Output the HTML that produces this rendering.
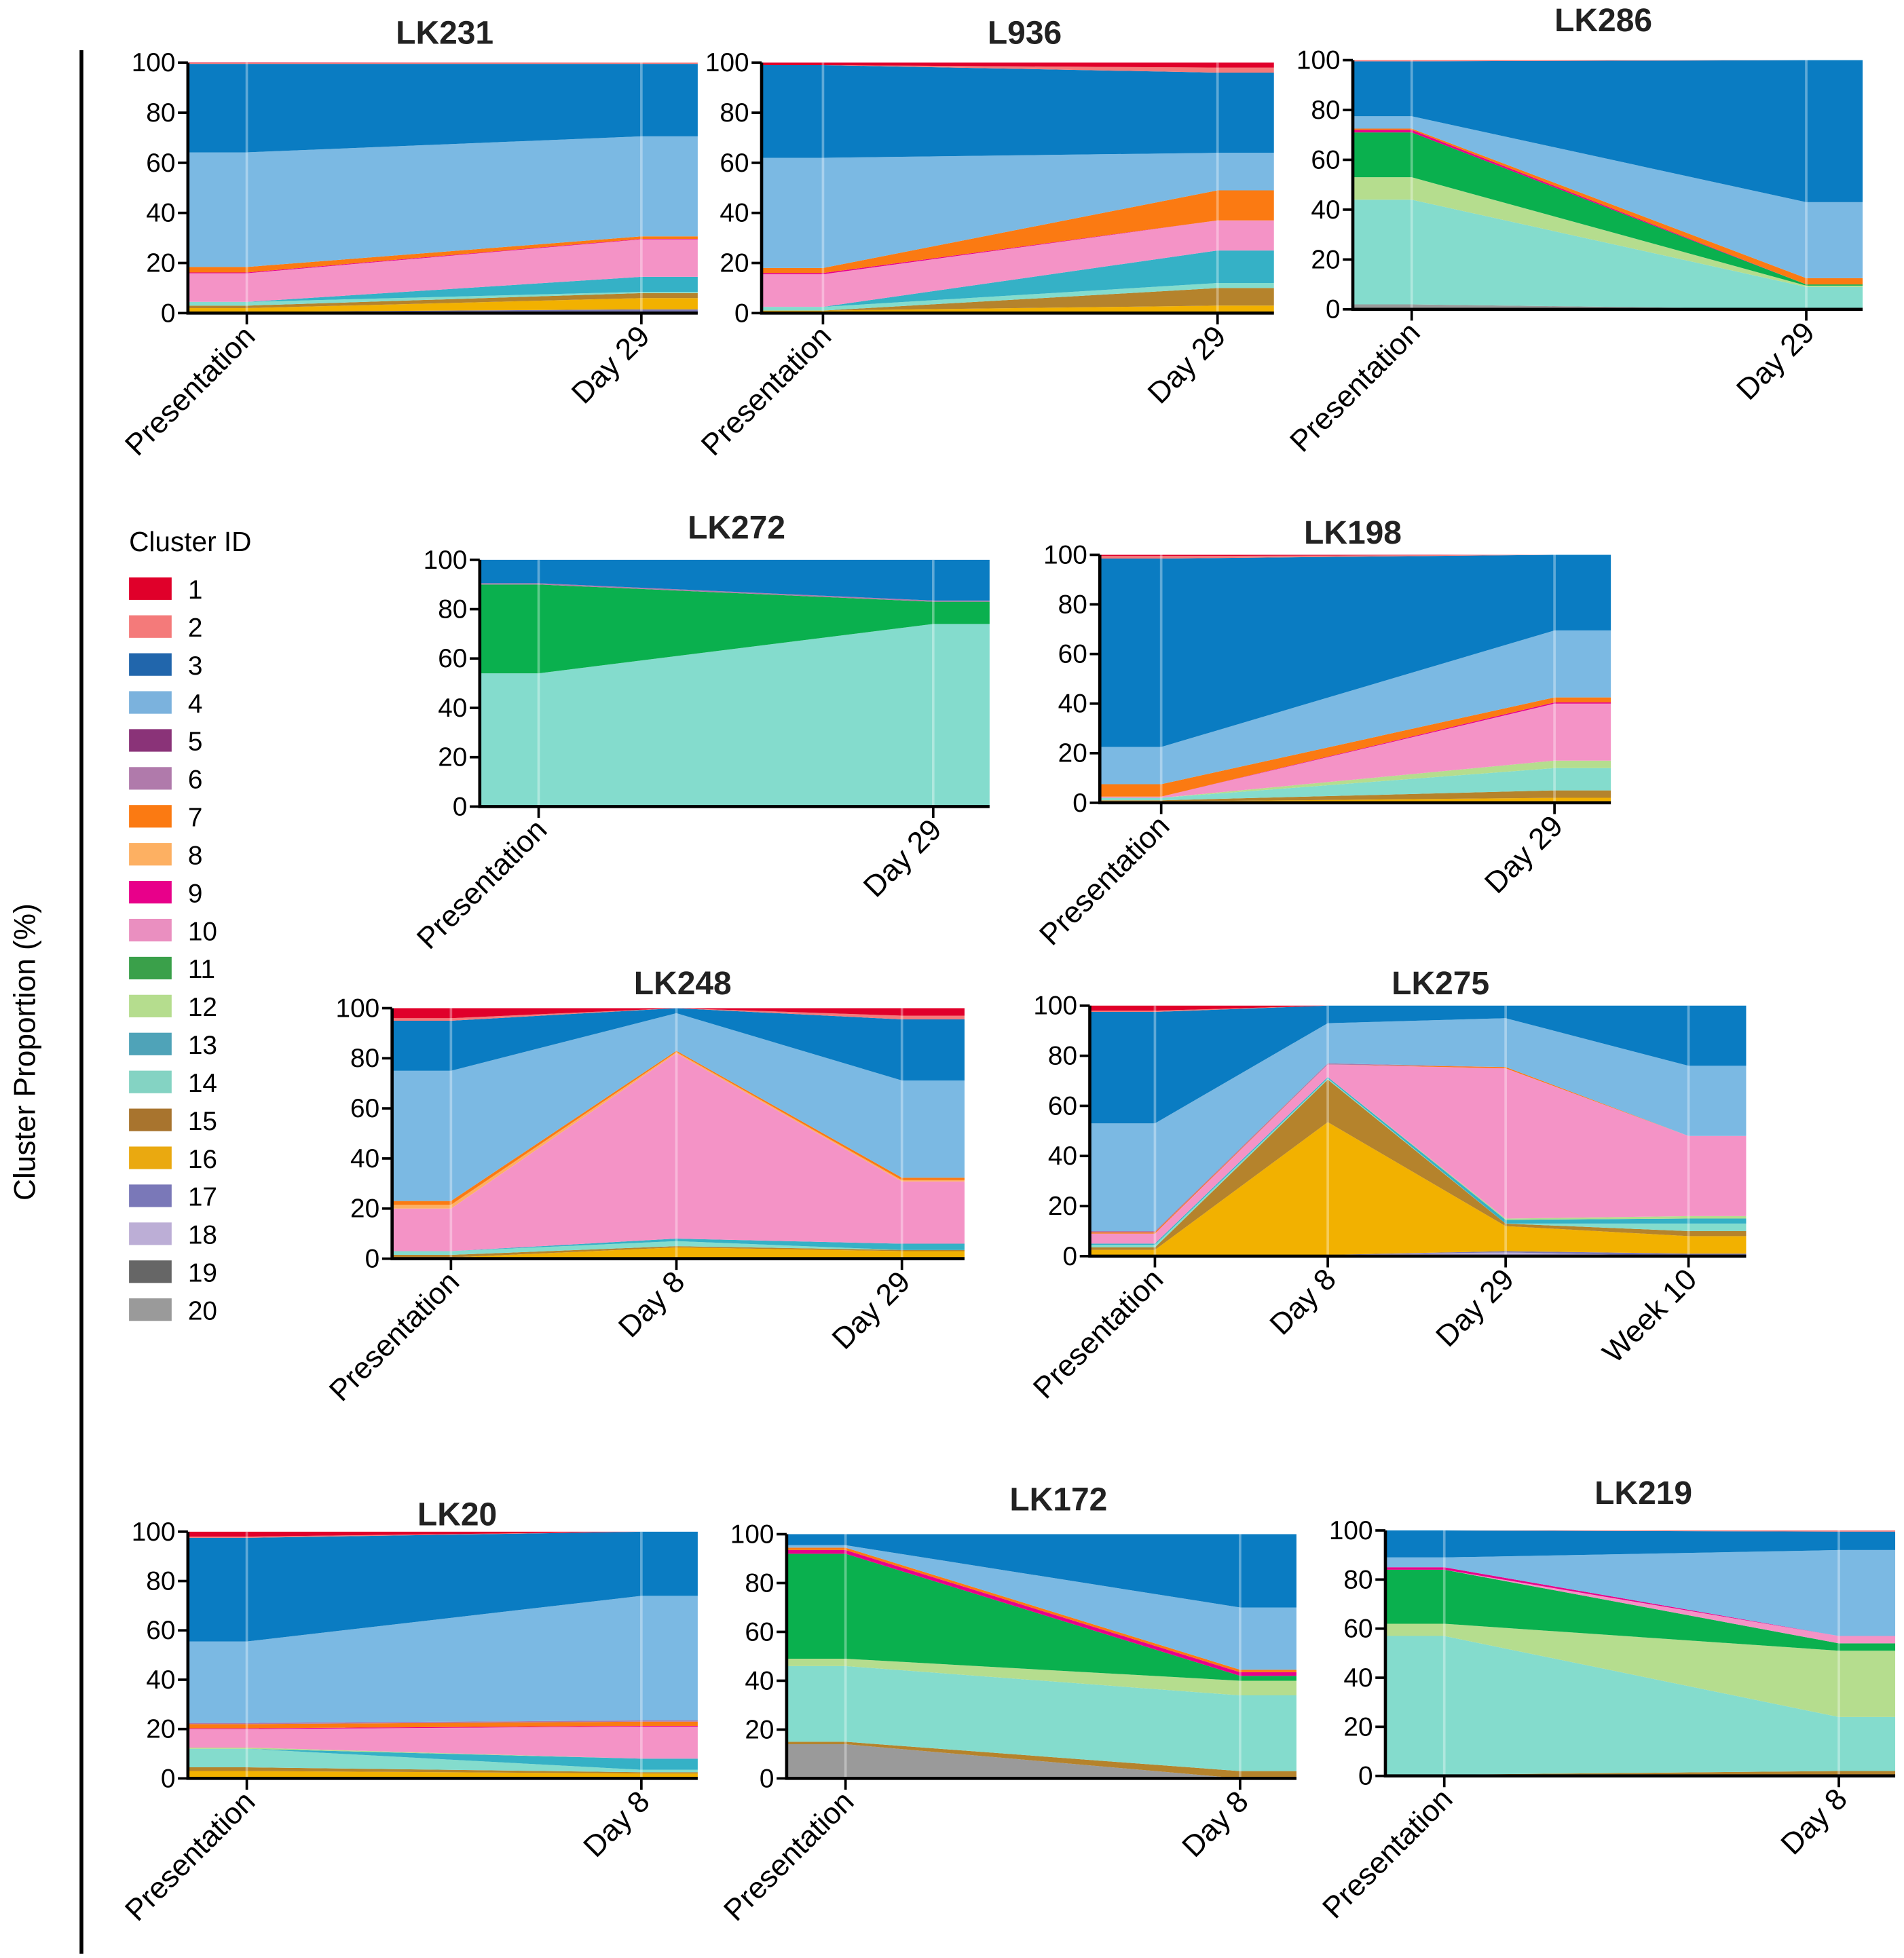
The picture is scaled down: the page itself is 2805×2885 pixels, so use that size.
<!DOCTYPE html>
<html><head><meta charset="utf-8"><style>
html,body{margin:0;padding:0;background:#fff}
svg{display:block}
text{font-family:"Liberation Sans",Arial,sans-serif}
</style></head><body>
<svg id="fig" width="2805" height="2885" viewBox="0 0 1520 1563.4" xmlns="http://www.w3.org/2000/svg">
<line x1="65" y1="40" x2="65" y2="1560" stroke="#000" stroke-width="3"/>
<text x="28" y="840" font-size="24" text-anchor="middle" transform="rotate(-90 28 840)">Cluster Proportion (%)</text>
<g id="legend"><text x="103" y="440" font-size="22">Cluster ID</text></g>
<g id="charts"></g>
</svg>
<script>
const clusterColors = ["#e0002a","#f47a7a","#0a7cc2","#7bb9e3","#8a3378","#b07aab","#fb7a12","#fdb062","#e8008a","#f493c6","#0ab04e","#b5dd8e","#35b1c6","#84dccd","#b5832c","#f2b100","#7a78b8","#bcaed6","#666666","#9a9a9a"];
const legendColors = ["#e0002a","#f47a7a","#2166ac","#7bb2dd","#8a3378","#b07aab","#fb7a12","#fdb062","#e8008a","#ea8fc0","#3aa04a","#b5dd8e","#4fa3b8","#84d3c3","#a8742e","#eaa910","#7a78b8","#bcaed6","#666666","#9a9a9a"];
const yTicks = [0,20,40,60,80,100];

// each series: [clusterId, values per category]
const lk231Cats = ["Presentation","Day 29"];
const lk231Series = [[17,[0.5,1.5]],[16,[1.5,4.5]],[15,[1,2]],[14,[1.5,0.5]],[13,[0,6]],[10,[11.5,15]],[9,[0.3,0.2]],[7,[2.2,1]],[4,[46,40]],[3,[35.5,29]],[2,[0.3,0.5]],[1,[0.2,0]]];
const l936Cats = ["Presentation","Day 29"];
const l936Series = [[16,[1,3]],[15,[0,7]],[14,[1.5,2]],[13,[0,13]],[10,[13,12]],[9,[0.5,0]],[7,[2,12]],[4,[44,15]],[3,[37,32]],[2,[0,2]],[1,[1,2]]];
const lk286Cats = ["Presentation","Day 29"];
const lk286Series = [[20,[2,0]],[14,[42,9]],[12,[9,0.5]],[11,[18,0.5]],[9,[1,0]],[7,[0.5,2.5]],[2,[0.5,0]],[4,[5,30.5]],[3,[22,57]]];
const lk272Cats = ["Presentation","Day 29"];
const lk272Series = [[14,[54,74]],[11,[36,9]],[6,[0.5,0.5]],[3,[9.5,16.5]]];
const lk198Cats = ["Presentation","Day 29"];
const lk198Series = [[16,[0.5,2]],[15,[0.5,3]],[14,[1,9]],[12,[0,3]],[10,[0.5,23]],[9,[0,0.5]],[7,[5,2]],[4,[15,27]],[3,[76,30.5]],[2,[1,0]],[1,[0.5,0]]];
const lk248Cats = ["Presentation","Day 8","Day 29"];
const lk248Series = [[15,[1,0.5]],[16,[0.5,4.5]],[14,[1.5,2]],[13,[0,1]],[10,[17,74]],[8,[1.5,0.5]],[7,[1.5,0.5]],[4,[52,15]],[3,[20,2]],[2,[1,0]],[1,[4,0]]];
const lk248Series3 = [0.5,3,0,2.5,25,0.5,1,39,24.5,1.5,3];
const lk275Cats = ["Presentation","Day 8","Day 29","Week 10"];
const lk275Series = [[17,[0,0,0.5,1]],[18,[0,0.5,1.5,0]],[16,[2.5,53,10,7]],[15,[1,17,1,2]],[14,[1,0.5,0,3]],[13,[0.5,0.5,1.5,2]],[12,[0,0,0.5,1]],[10,[4,5,60,32]],[7,[0.5,0,0.5,0]],[6,[0.5,0.5,0,0]],[4,[43,16,19.5,28]],[3,[44.5,7,5,24]],[2,[0.5,0,0,0]],[1,[2,0,0,0]]];
const lk20Cats = ["Presentation","Day 8"];
const lk20Series = [[17,[0,0.5]],[16,[3,1.5]],[15,[1.5,0.5]],[14,[7.5,1]],[13,[0,4.5]],[12,[0.5,0]],[10,[7.5,13]],[9,[0.3,0.3]],[7,[1.7,1.7]],[6,[0.5,0.5]],[4,[33,50.5]],[3,[42,26]],[2,[0.5,0]],[1,[2,0]]];
const lk172Cats = ["Presentation","Day 8"];
const lk172Series = [[20,[14,0]],[15,[1,3]],[14,[31,31]],[12,[3,6]],[11,[43,2]],[9,[1.5,1.5]],[7,[1,1]],[4,[1,25.5]],[3,[4.5,30]]];
const lk219Cats = ["Presentation","Day 8"];
const lk219Series = [[15,[0.5,2]],[14,[56.5,22]],[12,[5,27]],[11,[22,3]],[9,[1,0]],[10,[0,3]],[4,[4,35]],[3,[11,7.5]],[2,[0,0.5]]];

const charts = [
 {id:"lk231",title:"LK231",tx:355,ty:35,L:150,R:557,T:50,B:250,cx:[197,512],cats:lk231Cats,series:lk231Series},
 {id:"l936",title:"L936",tx:818,ty:35,L:608,R:1017,T:50,B:250,cx:[657,972],cats:l936Cats,series:l936Series},
 {id:"lk286",title:"LK286",tx:1280,ty:25,L:1080,R:1487,T:48,B:247,cx:[1127,1442],cats:lk286Cats,series:lk286Series},
 {id:"lk272",title:"LK272",tx:588,ty:430,L:383,R:790,T:447,B:644,cx:[430,745],cats:lk272Cats,series:lk272Series},
 {id:"lk198",title:"LK198",tx:1080,ty:434,L:878,R:1286,T:443,B:641,cx:[927,1241],cats:lk198Cats,series:lk198Series},
 {id:"lk248",title:"LK248",tx:545,ty:794,L:313,R:770,T:805,B:1005,cx:[360,540,720],cats:lk248Cats,series:lk248Series.map((s,i)=>[s[0],s[1].concat([lk248Series3[i]])])},
 {id:"lk275",title:"LK275",tx:1150,ty:794,L:870,R:1394,T:803,B:1003,cx:[922,1060,1202,1348],cats:lk275Cats,series:lk275Series},
 {id:"lk20",title:"LK20",tx:365,ty:1218,L:150,R:557,T:1223,B:1420,cx:[197,512],cats:lk20Cats,series:lk20Series},
 {id:"lk172",title:"LK172",tx:845,ty:1206,L:628,R:1035,T:1225,B:1420,cx:[675,990],cats:lk172Cats,series:lk172Series},
 {id:"lk219",title:"LK219",tx:1312,ty:1201,L:1106,R:1513,T:1222,B:1418,cx:[1153,1468],cats:lk219Cats,series:lk219Series}
];
const NS="http://www.w3.org/2000/svg";
function mk(tag,attrs,parent){const e=document.createElementNS(NS,tag);for(const k in attrs)e.setAttribute(k,attrs[k]);parent.appendChild(e);return e;}
const root=document.getElementById('charts');
charts.forEach(c=>{
  const g=mk('g',{},root);
  
  
  const y=v=>c.B-(v/100)*(c.B-c.T);
  const n=c.cats.length;
  const xs=[c.L].concat(c.cx).concat([c.R]);
  const ext=a=>[a[0]].concat(a).concat([a[n-1]]);
  const ordered=c.series.slice().sort((a,b)=>b[0]-a[0]);
  const tot=new Array(n).fill(0);
  ordered.forEach(s=>s[1].forEach((v,i)=>tot[i]+=v));
  let cum=new Array(n).fill(0);
  ordered.forEach(s=>{
    const lo=cum.slice(); const hi=cum.map((v,i)=>v+s[1][i]*100/tot[i]); cum=hi;
    if(s[1].every(v=>v===0))return;
    const H=ext(hi),Lw=ext(lo);
    let d='M'+xs.map((x,i)=>x+','+y(H[i]).toFixed(2)).join(' L');
    for(let i=xs.length-1;i>=0;i--)d+=' L'+xs[i]+','+y(Lw[i]).toFixed(2);
    d+=' Z';
    const p=mk('path',{d:d,fill:clusterColors[s[0]-1]},g);
    
    
  });
  c.cx.forEach(x=>{const l=mk('line',{x1:x,x2:x,y1:c.T,y2:c.B,stroke:'#fff','stroke-opacity':0.35,'stroke-width':2},g);
    
    });
  const ax=mk('path',{d:`M${c.L},${c.T} L${c.L},${c.B} L${c.R},${c.B}`,fill:'none',stroke:'#000','stroke-width':2.5},g);
  
  
  yTicks.forEach(t=>{
    mk('line',{x1:c.L-8,x2:c.L,y1:y(t),y2:y(t),stroke:'#000','stroke-width':2},g);
    const tx=mk('text',{x:c.L-10,y:y(t)+7,'font-size':21,'text-anchor':'end'},g);
    tx.textContent=t;
    
    
  });
  c.cx.forEach((x,i)=>{
    mk('line',{x1:x,x2:x,y1:c.B,y2:c.B+9,stroke:'#000','stroke-width':2},g);
    const tx=mk('text',{x:x+8,y:c.B+20,'font-size':24,'text-anchor':'end',transform:`rotate(-45 ${x+8} ${c.B+20})`},g);
    tx.textContent=c.cats[i];
    
    
  });
  const tt=mk('text',{x:c.tx,y:c.ty,'font-size':26,'font-weight':'bold','text-anchor':'middle',fill:'#222'},g);
  tt.textContent=c.title;
  
  
});
const lg=document.getElementById('legend');
legendColors.forEach((col,i)=>{
  const yy=461+i*30.3;
  const r=mk('rect',{x:103,y:yy,width:34,height:18,fill:col},lg);
  
  
  const t=mk('text',{x:150,y:yy+17,'font-size':21},lg);
  t.textContent=String(i+1);
  
  
});
</script>
</body></html>
